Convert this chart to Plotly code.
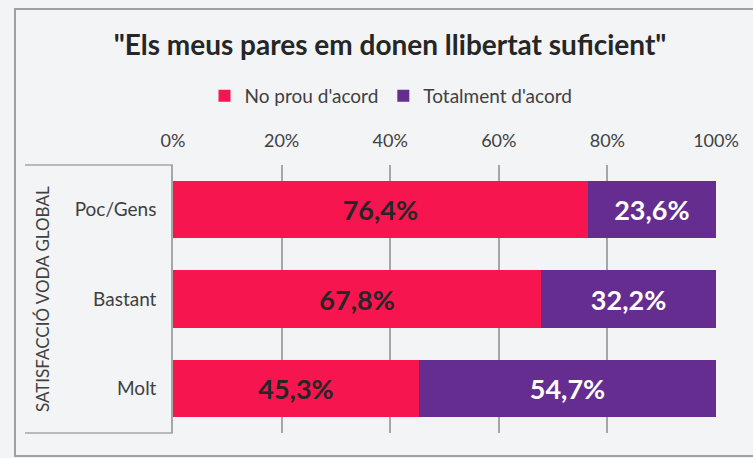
import plotly.graph_objects as go

categories = ["Poc/Gens", "Bastant", "Molt"]
no_prou = [76.4, 67.8, 45.3]
totalment = [23.6, 32.2, 54.7]
series_names = ["No prou d'acord", "Totalment d'acord"]
tick_vals = [0, 20, 40, 60, 80, 100]
tick_text = ["0%", "20%", "40%", "60%", "80%", "100%"]
title_text = '"Els meus pares em donen llibertat suficient"'
group_label = "SATISFACCIÓ VODA GLOBAL"

FONT = "Lato, 'Open Sans', sans-serif"
RED = "#F7154F"
PURPLE = "#662D91"
BG = "#F3F4F6"

def fmt(v):
    return f"{v:.1f}".replace(".", ",") + "%"

fig = go.Figure()
fig.add_trace(go.Bar(
    y=categories, x=no_prou, name=series_names[0], orientation="h",
    marker=dict(color=RED, line=dict(width=0)), width=0.64,
    text=[fmt(v) for v in no_prou], textposition="inside", insidetextanchor="middle",
    textfont=dict(family=FONT, size=27, color="#262626", weight="bold"),
    hoverinfo="skip",
))
fig.add_trace(go.Bar(
    y=categories, x=totalment, name=series_names[1], orientation="h",
    marker=dict(color=PURPLE, line=dict(width=0)), width=0.64,
    text=[fmt(v) for v in totalment], textposition="inside", insidetextanchor="middle",
    textfont=dict(family=FONT, size=27, color="#FFFFFF", weight="bold"),
    hoverinfo="skip",
))

L, R, T, B = 173, 37, 165, 25
W, H = 753, 458
pw, ph = W - L - R, H - T - B

def px_x(p):
    return (p - L) / pw

def px_y(p):
    return (H - B - p) / ph

fig.update_layout(
    width=W, height=H,
    margin=dict(l=L, r=R, t=T, b=B),
    paper_bgcolor=BG, plot_bgcolor=BG,
    barmode="stack", bargap=0.36,
    font=dict(family=FONT, color="#404040"),
    title=dict(text=title_text, x=390 / W, xanchor="center",
               y=1 - 45 / H, yanchor="middle",
               font=dict(family=FONT, size=28, color="#262626", weight="bold")),
    legend=dict(orientation="h", x=px_x(391), xanchor="center",
                y=px_y(96), yanchor="middle",
                font=dict(family=FONT, size=19, color="#404040"),
                itemwidth=30, traceorder="normal", bgcolor="rgba(0,0,0,0)"),
    showlegend=True,
    xaxis=dict(side="top", range=[0, 100], tickvals=tick_vals, ticktext=tick_text,
               showgrid=True, gridcolor="#A6A6A6", gridwidth=1.5, zeroline=False,
               showline=False, ticks="", ticklabelstandoff=13,
               tickfont=dict(family=FONT, size=18, color="#404040"), fixedrange=True),
    yaxis=dict(autorange="reversed", showgrid=False, zeroline=False,
               showline=True, linecolor="#A6A6A6", linewidth=1.5, ticks="",
               ticklabelstandoff=11,
               tickfont=dict(family=FONT, size=19, color="#404040"), fixedrange=True),
)

# category table lines
for yy in (0, 1):
    fig.add_shape(type="line", xref="paper", yref="paper",
                  x0=px_x(25), x1=0, y0=yy, y1=yy,
                  line=dict(color="#A6A6A6", width=1.5))

# outer chart frame
fig.add_shape(type="rect", xref="paper", yref="paper",
              x0=px_x(15), x1=px_x(760), y0=px_y(456), y1=px_y(9),
              line=dict(color="#A0A0A0", width=2), fillcolor="rgba(0,0,0,0)",
              layer="below")

fig.add_annotation(text=group_label, xref="paper", yref="paper",
                   x=px_x(42), y=0.5, textangle=-90, showarrow=False,
                   xanchor="center", yanchor="middle",
                   font=dict(family=FONT, size=17, color="#404040"))

fig.write_html("out.html",
               config={"displayModeBar": False},
               post_script="document.body.style.margin='0';document.body.style.overflow='hidden';document.body.style.background='%s';" % BG)
